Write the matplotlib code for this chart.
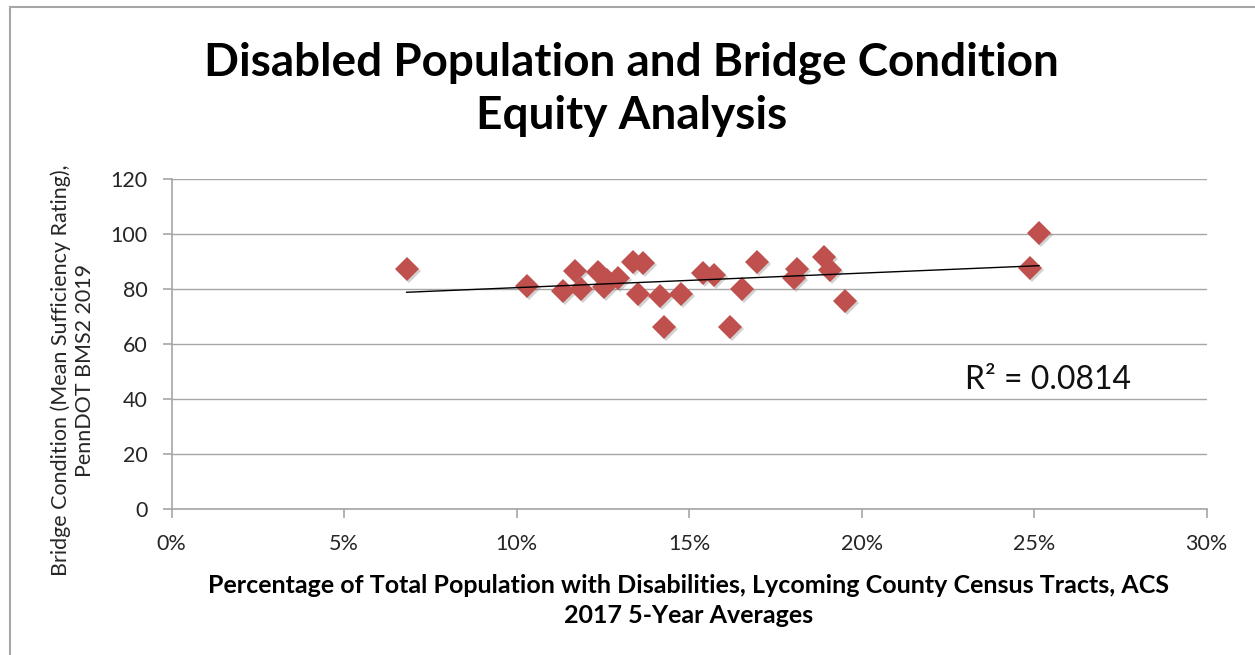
import matplotlib
matplotlib.use('Agg')
import matplotlib.pyplot as plt
import matplotlib.transforms as mtransforms
from matplotlib.lines import Line2D
from matplotlib.ticker import PercentFormatter
import numpy as np

plt.rcParams['font.family'] = ['Lato', 'DejaVu Sans']

# share of population with disabilities per census tract
disabled_pct = [0.0681, 0.1029, 0.1135, 0.1169, 0.1186, 0.1237, 0.1253, 0.1262,
                0.1294, 0.1338, 0.1367, 0.1352, 0.1415, 0.1428, 0.1475, 0.1541,
                0.1572, 0.1618, 0.1652, 0.1697, 0.1804, 0.1812, 0.1892, 0.1908,
                0.1952, 0.2488, 0.2514]
# mean sufficiency rating of bridges per tract
bridge_rating = [87.2, 81.1, 79.3, 86.7, 80.0, 86.3, 80.7, 83.3,
                 83.9, 90.0, 89.4, 78.2, 77.5, 66.3, 78.2, 86.0,
                 85.2, 66.3, 79.9, 90.0, 83.9, 87.2, 91.6, 86.9,
                 75.6, 87.6, 100.3]
r2_label = 'R² = 0.0814'
y_ticks = [0, 20, 40, 60, 80, 100, 120]
x_ticks = [0, 0.05, 0.10, 0.15, 0.20, 0.25, 0.30]

grey = '#a6a6a6'
red = '#c0504d'

fig = plt.figure(figsize=(12.55, 6.55), dpi=100)
ax = fig.add_axes([0.1368, 0.2224, 0.8247, 0.5043])

# soft shadow under the markers
shadow = mtransforms.offset_copy(ax.transData, fig=fig, x=2, y=-2, units='dots')
ax.plot(disabled_pct, bridge_rating, linestyle='none', marker='D', markersize=12,
        color='#7f7f7f', alpha=0.35, markeredgewidth=0, transform=shadow, zorder=2)
ax.plot(disabled_pct, bridge_rating, linestyle='none', marker='D', markersize=12,
        color=red, markeredgewidth=0, zorder=3)

# linear trend line
xs = np.array(disabled_pct)
slope, intercept = np.polyfit(xs, bridge_rating, 1)
tx = np.array([xs.min(), xs.max()])
ax.plot(tx, slope * tx + intercept, color='black', linewidth=1.0, zorder=4)

ax.set_xlim(0, 0.30)
ax.set_ylim(0, 120)
ax.set_xticks(x_ticks)
ax.set_yticks(y_ticks)
ax.xaxis.set_major_formatter(PercentFormatter(xmax=1, decimals=0))
ax.grid(axis='y', color=grey, linewidth=1.0)
ax.set_axisbelow(True)
for side in ['top', 'right']:
    ax.spines[side].set_visible(False)
for side in ['left', 'bottom']:
    ax.spines[side].set_color(grey)
    ax.spines[side].set_linewidth(1.2)
ax.tick_params(axis='both', colors=grey, length=6.5, width=1.2, labelcolor='#262626',
               labelsize=15.5)
ax.tick_params(axis='y', pad=11)
ax.tick_params(axis='x', pad=11)

ax.text(0.230, 47, r2_label, fontsize=23, color='#111111', va='center', ha='left')

fig.text(0.503, 0.864, 'Disabled Population and Bridge Condition\nEquity Analysis',
         ha='center', va='center', fontsize=33, fontweight='bold', linespacing=1.32)
fig.text(0.549, 0.083, 'Percentage of Total Population with Disabilities, Lycoming County Census Tracts, ACS\n2017 5-Year Averages',
         ha='center', va='center', fontsize=18, fontweight='bold', linespacing=1.35)
fig.text(0.058, 0.435, 'Bridge Condition (Mean Sufficiency Rating),\nPennDOT BMS2 2019',
         ha='center', va='center', rotation=90, fontsize=15.5, color='#262626',
         linespacing=1.3)

# chart-area frame (top and left edges visible)
fig.add_artist(Line2D([0.008, 1.0], [0.989, 0.989], color=grey, linewidth=1.5))
fig.add_artist(Line2D([0.008, 0.008], [0.0, 0.989], color=grey, linewidth=1.5))

fig.savefig('out.png', dpi=100)
